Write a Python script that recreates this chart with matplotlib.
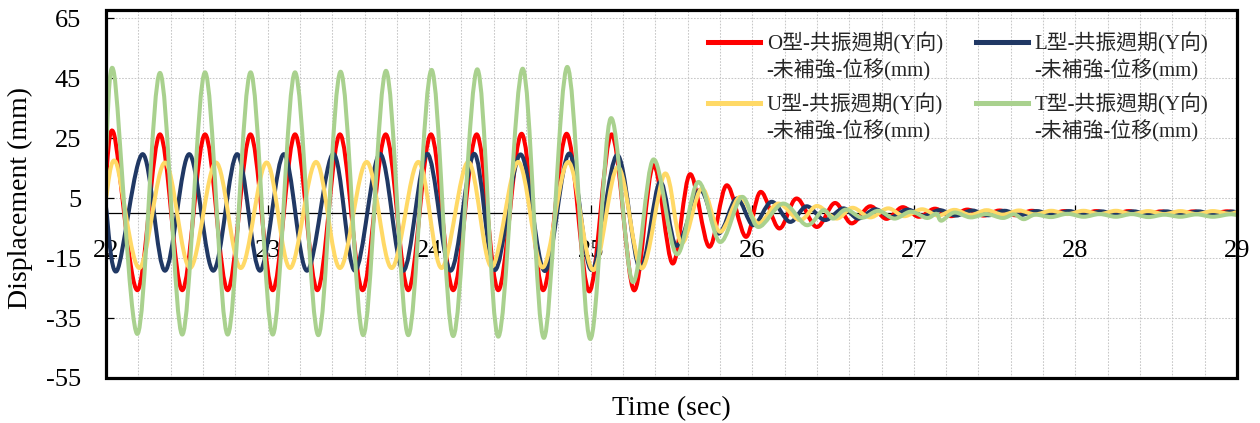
import numpy as np
import matplotlib
matplotlib.use("Agg")
import matplotlib.pyplot as plt
from matplotlib.path import Path
from matplotlib.patches import PathPatch
from matplotlib.lines import Line2D
from matplotlib.legend_handler import HandlerLine2D
from matplotlib.ticker import MultipleLocator

# ---------------- data (extrema) ----------------
o_t = [22.000, 22.050, 22.194, 22.334, 22.472, 22.613, 22.753, 22.894, 23.032, 23.170,
       23.308, 23.448, 23.588, 23.731, 23.871, 24.011, 24.149, 24.294, 24.428, 24.572,
       24.706, 24.851, 24.991, 25.129, 25.267, 25.387, 25.507, 25.614, 25.733, 25.841,
       25.960, 26.051, 26.166, 26.274, 26.398, 26.511, 26.614, 26.728, 26.83, 26.93,
       27.03, 27.13, 27.23, 27.33, 27.43, 27.53, 27.63, 27.73, 27.83, 27.93,
       28.03, 28.13, 28.23, 28.33, 28.43, 28.53, 28.63, 28.73, 28.83, 28.93, 29.00]
o_v = [12.0, 26.3, -25.7, 26.3, -25.7, 26.3, -25.7, 26.3, -25.7, 26.3,
       -25.7, 26.3, -25.7, 26.3, -25.7, 26.3, -25.7, 26.3, -25.7, 26.5,
       -25.7, 26.5, -26.1, 26.3, -25.7, 16.0, -16.8, 13.0, -11.2, 9.3,
       -7.9, 7.1, -5.1, 4.9, -4.6, 3.4, -3.4, 2.3, -1.9, 2.0,
       -1.2, 1.5, -1.0, 1.2, -0.8, 0.9, -0.7, 0.8, -0.6, 0.7,
       -0.5, 0.7, -0.5, 0.7, -0.5, 0.6, -0.5, 0.6, -0.5, 0.6, 0.2]

l_t = [22.000, 22.068, 22.227, 22.365, 22.515, 22.664, 22.812, 22.953, 23.101, 23.244,
       23.407, 23.541, 23.696, 23.840, 23.988, 24.133, 24.279, 24.407, 24.566, 24.716,
       24.867, 25.006, 25.164, 25.304, 25.428, 25.531, 25.675, 25.789, 25.903, 26.006,
       26.119, 26.233, 26.336, 26.449, 26.563, 26.655, 26.76, 26.86, 26.96, 27.06,
       27.16, 27.26, 27.36, 27.46, 27.56, 27.66, 27.76, 27.86, 27.96, 28.06,
       28.16, 28.26, 28.36, 28.46, 28.56, 28.66, 28.76, 28.86, 28.96, 29.00]
l_v = [2.0, -19.2, 19.7, -19.2, 19.7, -19.2, 19.7, -19.2, 19.7, -19.2,
       19.8, -19.2, 19.8, -19.2, 19.8, -19.2, 19.8, -19.0, 19.6, -19.3,
       19.9, -19.0, 19.4, -18.4, 10.4, -10.9, 7.7, -6.8, 4.9, -4.0,
       3.8, -2.9, 2.3, -2.3, 1.6, -1.8, 1.3, -1.3, 1.2, -0.9,
       1.0, -0.8, 0.9, -0.7, 0.8, -0.6, 0.7, -0.5, 0.7, -0.5,
       0.6, -0.5, 0.6, -0.5, 0.6, -0.4, 0.6, -0.4, 0.5, 0.3]

u_t = [22.000, 22.062, 22.206, 22.365, 22.520, 22.681, 22.834, 22.994, 23.139, 23.300,
       23.448, 23.613, 23.768, 23.933, 24.077, 24.242, 24.387, 24.551, 24.702, 24.861,
       25.015, 25.168, 25.315, 25.459, 25.562, 25.686, 25.799, 25.923, 26.036, 26.160,
       26.294, 26.40, 26.52, 26.62, 26.73, 26.84, 26.94, 27.05, 27.15, 27.25,
       27.35, 27.45, 27.55, 27.65, 27.75, 27.85, 27.95, 28.05, 28.15, 28.25,
       28.35, 28.45, 28.55, 28.65, 28.75, 28.85, 28.95, 29.00]
u_v = [5.0, 16.9, -18.3, 16.9, -18.3, 16.9, -18.3, 16.9, -18.3, 17.1,
       -18.3, 17.1, -18.3, 17.1, -18.3, 17.1, -17.9, 17.1, -18.1, 17.1,
       -19.0, 15.4, -18.4, 13.2, -10.0, 8.2, -6.2, 5.4, -3.4, 3.2,
       -2.3, 2.4, -1.8, 1.8, -1.4, 1.6, -1.0, 1.3, -0.8, 1.1,
       -0.6, 1.0, -0.5, 0.9, -0.4, 0.8, -0.3, 0.8, -0.3, 0.8,
       -0.3, 0.7, -0.3, 0.7, -0.3, 0.7, -0.2, 0.4]

t_t = [22.000, 22.050, 22.194, 22.334, 22.472, 22.613, 22.753, 22.895, 23.032, 23.170,
       23.314, 23.452, 23.592, 23.733, 23.871, 24.015, 24.149, 24.298, 24.428, 24.579,
       24.710, 24.855, 24.995, 25.123, 25.259, 25.387, 25.531, 25.665, 25.799, 25.934,
       26.036, 26.191, 26.336, 26.439, 26.50, 26.58, 26.68, 26.78, 26.88, 26.98,
       27.08, 27.14, 27.17, 27.25, 27.35, 27.45, 27.55, 27.62, 27.68, 27.75,
       27.85, 27.95, 28.05, 28.15, 28.25, 28.35, 28.45, 28.55, 28.65, 28.75,
       28.85, 28.95, 29.00]
t_v = [20.0, 46.6, -40.3, 46.8, -40.5, 47.0, -40.5, 47.0, -40.5, 47.0,
       -40.7, 47.2, -40.7, 47.5, -40.7, 47.8, -41.0, 48.0, -41.2, 48.2,
       -41.6, 48.8, -41.9, 31.6, -22.9, 17.9, -13.7, 10.4, -9.6, 5.4,
       -4.6, 3.2, -4.0, 1.0, -1.8, 1.2, -1.5, 0.8, -1.8, 0.5,
       -1.6, -0.2, -2.5, 0.2, -1.4, -0.3, -1.6, -0.4, -2.0, -0.5,
       -1.3, -0.2, -1.2, -0.3, -1.2, -0.3, -1.3, -0.5, -1.2, -0.4,
       -1.2, -0.4, -0.6]

series = [
    ("O型-共振週期(Y向)\n-未補強-位移(mm)", o_t, o_v, "#FF0000"),
    ("L型-共振週期(Y向)\n-未補強-位移(mm)", l_t, l_v, "#203864"),
    ("U型-共振週期(Y向)\n-未補強-位移(mm)", u_t, u_v, "#FFD966"),
    ("T型-共振週期(Y向)\n-未補強-位移(mm)", t_t, t_v, "#A9D18E"),
]

x_ticks = [22, 23, 24, 25, 26, 27, 28, 29]
y_ticks = [-55, -35, -15, 5, 25, 45, 65]

# ---------------- style ----------------
plt.rcParams['font.family'] = ['Liberation Serif', 'Noto Sans CJK TC', 'DejaVu Sans']
plt.rcParams['axes.unicode_minus'] = False
LW = 2.9


def smooth_path(t, v):
    """Smoothed line through the points (Catmull-Rom drawn as Bezier curves)."""
    pts = np.column_stack([t, v]).astype(float)
    P = np.vstack([pts[0], pts, pts[-1]])
    verts = [pts[0]]
    codes = [Path.MOVETO]
    for i in range(1, len(P) - 2):
        p0, p1, p2, p3 = P[i - 1], P[i], P[i + 1], P[i + 2]
        c1 = p1 + (p2 - p0) / 6.0
        c2 = p2 - (p3 - p1) / 6.0
        verts += [c1, c2, p2]
        codes += [Path.CURVE4] * 3
    return Path(np.array(verts), codes)


class TopHandler(HandlerLine2D):
    def __init__(self, dy=0.0, **kw):
        super().__init__(**kw)
        self.dy = dy

    def create_artists(self, legend, orig_handle, xdescent, ydescent,
                       width, height, fontsize, trans):
        arts = super().create_artists(legend, orig_handle, xdescent, ydescent,
                                      width, height, fontsize, trans)
        for a in arts:
            if isinstance(a, Line2D):
                a.set_ydata(np.asarray(a.get_ydata(), dtype=float) + self.dy)
        return arts


fig = plt.figure(figsize=(12.6, 4.23), dpi=100)
ax = fig.add_axes([106 / 1260, 1 - 378 / 423, (1237 - 106) / 1260, (378 - 10) / 423])

ax.set_xlim(22, 29)
ax.set_ylim(-55, 67.8)

handles = {}
for label, t, v, c in series:
    patch = PathPatch(smooth_path(t, v), fill=False, edgecolor=c, lw=LW,
                      capstyle='round', joinstyle='round', zorder=3)
    ax.add_patch(patch)
    handles[label] = Line2D([], [], color=c, lw=LW * 1.25)

# grid
ax.xaxis.set_major_locator(MultipleLocator(1))
ax.xaxis.set_minor_locator(MultipleLocator(0.2))
ax.set_yticks(y_ticks)
grid_kw = dict(color='#C8C8C8', ls=(0, (1.6, 1.4)), lw=0.75, zorder=0)
ax.grid(which='both', axis='x', **grid_kw)
ax.grid(which='major', axis='y', **grid_kw)

# spines: x axis line at y = 0, outer frame drawn separately
ax.spines['bottom'].set_position(('data', 0))
ax.spines['bottom'].set_linewidth(0.9)
ax.spines['bottom'].set_zorder(2)
for s in ['top', 'right', 'left']:
    ax.spines[s].set_visible(False)
frame = plt.Rectangle((0, 0), 1, 1, transform=ax.transAxes, fill=False,
                      edgecolor='black', lw=2.3, zorder=5, clip_on=False)
ax.add_patch(frame)

ax.set_xticks(x_ticks)
ax.set_xticklabels([str(x) for x in x_ticks])
ax.tick_params(axis='x', which='major', direction='in', length=6, width=0.9,
               pad=19, labelsize=19)
ax.tick_params(axis='x', which='minor', length=0)
ax.tick_params(axis='y', direction='in', length=6, width=0.9, pad=18, labelsize=19)

ax.set_ylabel('Displacement (mm)', fontsize=20)
ax.yaxis.set_label_coords(-0.076, 0.49)
ax.yaxis.label.set_va('center')
ax.set_xlabel('Time (sec)', fontsize=20)
ax.xaxis.set_label_coords(0.5, -0.082)
ax.xaxis.label.set_va('center')

order = [series[0][0], series[2][0], series[1][0], series[3][0]]
leg = ax.legend([handles[k] for k in order], order, ncol=2, loc='upper right',
                bbox_to_anchor=(0.982, 0.962), frameon=False, fontsize=15,
                handlelength=2.5, handletextpad=0.3, columnspacing=1.6,
                labelspacing=0.54, borderaxespad=0,
                handler_map={Line2D: TopHandler(dy=10.5)})
for txt in leg.get_texts():
    txt.set_linespacing(1.29)
    txt.set_color('#262626')

fig.savefig('out.png', dpi=100)
